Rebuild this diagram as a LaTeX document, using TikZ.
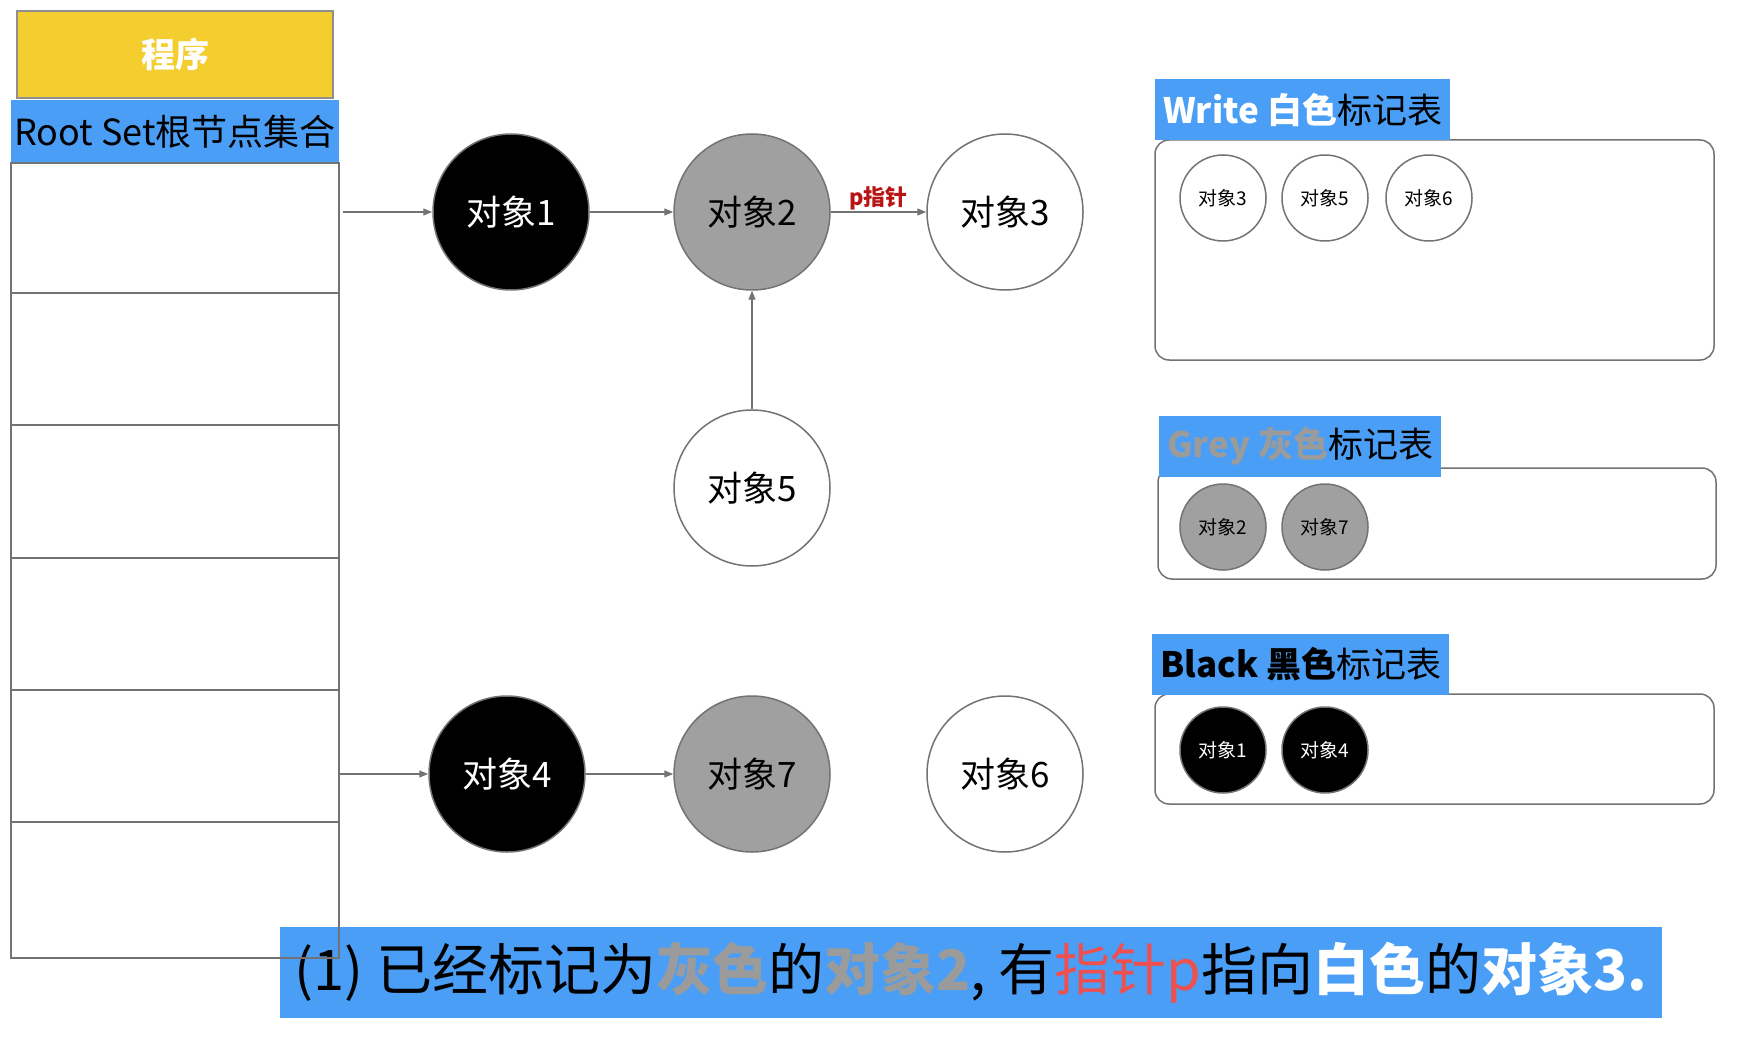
\documentclass[tikz,border=0pt]{standalone}
\usepackage{fontspec}
\setmainfont{Noto Sans CJK SC}
\usetikzlibrary{arrows.meta,positioning}
\definecolor{rootblue}{RGB}{74,158,245}
\definecolor{progyellow}{RGB}{244,206,46}
\definecolor{objgrey}{RGB}{160,160,160}
\definecolor{linegrey}{RGB}{115,115,115}
\definecolor{txtgrey}{RGB}{155,155,155}
\definecolor{ptrred}{RGB}{185,20,20}
\definecolor{capred}{RGB}{238,80,80}

\tikzset{
  obj/.style={draw=linegrey, line width=1.5pt, circle, minimum size=156pt, inner sep=0pt, font=\fontsize{35}{40}\selectfont},
  blackobj/.style={obj, fill=black, text=white},
  greyobj/.style={obj, fill=objgrey},
  whiteobj/.style={obj, fill=white},
  mini/.style={draw=linegrey, line width=1.5pt, circle, minimum size=86pt, inner sep=0pt, font=\fontsize{19}{22}\selectfont},
  tabletitle/.style={fill=rootblue, anchor=west, minimum height=61pt, inner xsep=8pt, font=\fontsize{35}{40}\selectfont},
  tablebox/.style={draw=linegrey, line width=1.5pt, rounded corners=14pt},
  link/.style={->, linegrey, line width=1.3pt}
}

\begin{document}
\begin{tikzpicture}[x=1pt, y=-1pt, >={Triangle[length=9pt,width=7pt]}]
\fill[white] (0,0) rectangle (1742,1048);
\useasboundingbox (0,0) rectangle (1742,1048);

% program / root set
\node (prog)[fill=progyellow, draw=linegrey!80, line width=1.2pt, minimum width=316pt, minimum height=87pt, text=white, font=\fontsize{34}{40}\selectfont\bfseries] at (175,54.5) {程序};
\node (root)[fill=rootblue, minimum width=328pt, minimum height=63pt, font=\fontsize{36}{42}\selectfont] at (175,131.5) {Root Set根节点集合};

% caption
\node (cap)[fill=rootblue, minimum width=1382pt, minimum height=91pt, font=\fontsize{56}{64}\selectfont] at (971,972.5)
  {(1) 已经标记为{\color{txtgrey}\bfseries 灰色}的{\color{txtgrey}\bfseries 对象2}, 有{\color{capred}指针p}指向{\color{white}\bfseries 白色}的{\color{white}\bfseries 对象3.}};

\draw[linegrey, line width=1.5pt] (11,163) rectangle (339,958);
\foreach \y in {293,425,558,690,822}
  \draw[linegrey, line width=1.5pt] (11,\y) -- (339,\y);
\coordinate (r1) at (343,212);
\coordinate (r5) at (340,774);

% objects
\node (o1)[blackobj] at (511,212) {对象1};
\node (o2)[greyobj] [right of = o1, node distance=241pt] {对象2};
\node (o3)[whiteobj] [right of = o2, node distance=253pt] {对象3};
\node (o5)[whiteobj] [below of = o2, node distance=276pt] {对象5};
\node (o4)[blackobj] at (507,774) {对象4};
\node (o7)[greyobj] [right of = o4, node distance=245pt] {对象7};
\node (o6)[whiteobj] [right of = o7, node distance=253pt] {对象6};

\path[link] (r1) edge (o1)
            (o1) edge (o2)
            (o2) edge node[above, inner sep=1pt, text=ptrred, font=\fontsize{22}{26}\selectfont\bfseries]{p指针} (o3)
            (o5) edge (o2)
            (r5) edge (o4)
            (o4) edge (o7);

% colour tables
\draw[tablebox] (1155,140) rectangle (1714,360);
\node (wt)[tabletitle] at (1155,109.5) {{\bfseries\color{white}Write 白色}标记表};
\node (w3)[mini, fill=white] at (1223,198) {对象3};
\node (w5)[mini, fill=white] at (1325,198) {对象5};
\node (w6)[mini, fill=white] at (1429,198) {对象6};

\draw[tablebox] (1158,468) rectangle (1716,579);
\node (gt)[tabletitle] at (1159,446) {{\bfseries\color{txtgrey}Grey 灰色}标记表};
\node (g2)[mini, fill=objgrey] at (1223,527) {对象2};
\node (g7)[mini, fill=objgrey] at (1325,527) {对象7};

\draw[tablebox] (1155,694) rectangle (1714,804);
\node (bt)[tabletitle] at (1152,664) {{\bfseries Black 黑色}标记表};
\node (b1)[mini, fill=black, text=white] at (1223,750) {对象1};
\node (b4)[mini, fill=black, text=white] at (1325,750) {对象4};
\end{tikzpicture}
\end{document}
